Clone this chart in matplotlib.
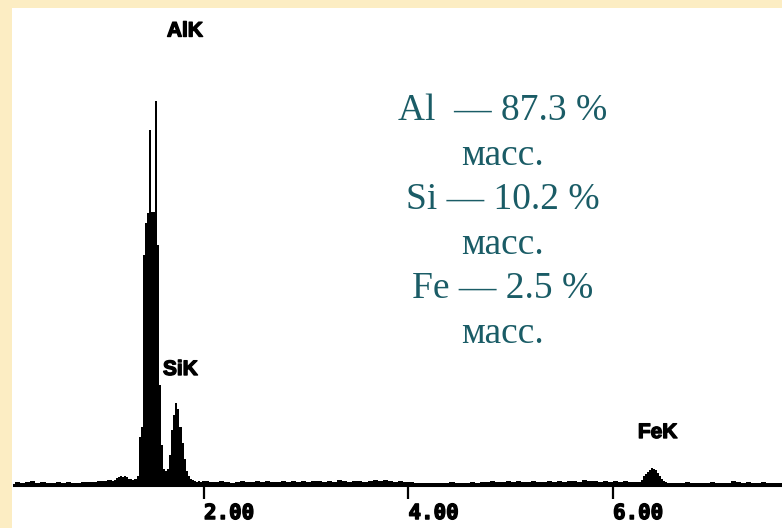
import matplotlib
matplotlib.use('Agg')
import matplotlib.pyplot as plt
import matplotlib.patheffects as pe
import numpy as np
from matplotlib.patches import Rectangle

# EDS spectrum, counts per channel (arbitrary units) on variable-width channels
seg1_counts = [30, 20, 30, 40, 20, 30, 20, 20, 30, 20, 30, 20, 20, 30, 30, 30, 40, 40, 50]
seg2_counts = [40, 50, 70, 80, 90, 80, 90, 80, 60, 60, 50, 60, 90, 480, 580,
               2300, 2620, 2720, 3550, 2730, 2730, 3840, 2400, 1000, 400,
               160, 140, 160, 300, 550, 700, 820, 760, 580, 420,
               260, 140, 90, 60, 50, 40, 30, 40, 30, 40]
seg3_counts = [40, 30, 30, 40, 30, 20, 30, 40, 30, 30,
               40, 30, 40, 30, 30, 40, 30, 40, 30, 40,
               30, 40, 40, 30, 40, 30, 50, 40, 30, 40,
               40, 30, 40, 50, 40, 50, 40, 30, 40, 30,
               30, 20, 20, 20, 20, 20, 20, 20, 30, 20,
               20, 20, 30, 20, 30, 30, 40, 30, 30, 40,
               30, 40, 30, 30, 40, 30, 30, 40, 30, 40,
               30, 40, 40, 30, 50, 40, 40, 30, 40, 30,
               40, 30, 40, 30, 30]
seg4_counts = [30, 50, 90, 110, 130, 150, 170, 160, 150, 120, 90, 60, 40, 30, 20]
seg5_counts = [20, 20, 20, 30, 20, 20, 20, 20, 30, 20, 20, 20, 40, 30, 20,
               30, 20, 20, 30, 20, 20, 20, 20]

peak_names = ['AlK', 'SiK', 'FeK']
elements = ['Al', 'Si', 'Fe']
mass_pct = [87.3, 10.2, 2.5]
tick_vals = [2.0, 4.0, 6.0]

edges = np.concatenate([
    np.linspace(0.15, 1.10, len(seg1_counts) + 1)[:-1],
    np.linspace(1.10, 2.00, len(seg2_counts) + 1)[:-1],
    np.linspace(2.00, 6.25, len(seg3_counts) + 1)[:-1],
    np.linspace(6.25, 6.55, len(seg4_counts) + 1)[:-1],
    np.linspace(6.55, 7.70, len(seg5_counts) + 1),
])
counts = np.array(seg1_counts + seg2_counts + seg3_counts + seg4_counts + seg5_counts)

W, H = 782, 528
fig = plt.figure(figsize=(W / 100, H / 100), dpi=100, facecolor='#fcedc3')
bg = Rectangle((12 / W, 0), 1 - 12 / W, 1 - 8 / H, transform=fig.transFigure,
               facecolor='white', edgecolor='none', zorder=-10)
fig.add_artist(bg)

ax = fig.add_axes([0, 0, 1, 1])
ax.set_zorder(1)
ax.set_facecolor('none')
ax.stairs(counts, edges, fill=True, color='black', zorder=3)

# pixel x = 102.25*E - 0.5 ; baseline at pixel row 485
ax.set_xlim(0.5 / 102.25, (W + 0.5) / 102.25)
ax.set_ylim(-430, 4850)

heavy = [pe.withStroke(linewidth=1.0, foreground='black')]

for s in ['top', 'right', 'left']:
    ax.spines[s].set_visible(False)
ax.spines['bottom'].set_position(('data', 0))
ax.spines['bottom'].set_bounds(0.14, 7.7)
ax.spines['bottom'].set_linewidth(2.2)
ax.set_yticks([])
ax.set_xticks(tick_vals)
ax.set_xticklabels(['{:.2f}'.format(v) for v in tick_vals],
                   fontfamily='DejaVu Sans Mono', fontweight='bold', fontsize=15)
for lab in ax.get_xticklabels():
    lab.set_ha('left')
    lab.set_path_effects(heavy)
ax.tick_params(axis='x', direction='out', length=10, width=1.6, pad=3)

label_pos = [(1.638, 4540), (1.599, 1155), (6.244, 525)]
for name, (xp, yp) in zip(peak_names, label_pos):
    ax.text(xp, yp, name, fontfamily='Liberation Sans', fontweight='bold',
            fontsize=15, ha='left', va='center', path_effects=heavy)

lines = []
for el, v in zip(elements, mass_pct):
    sep = '  ' if el == 'Al' else ' '
    lines.append('{}{}— {} %'.format(el, sep, v))
    lines.append('масс.')
for i, t in enumerate(lines):
    fig.text(503 / W, 1 - (120 + 44.6 * i) / H, t, fontfamily='Liberation Serif',
             fontsize=27, color='#1a5c66', ha='center', va='baseline')

fig.savefig('out.png', dpi=100, facecolor=fig.get_facecolor())
